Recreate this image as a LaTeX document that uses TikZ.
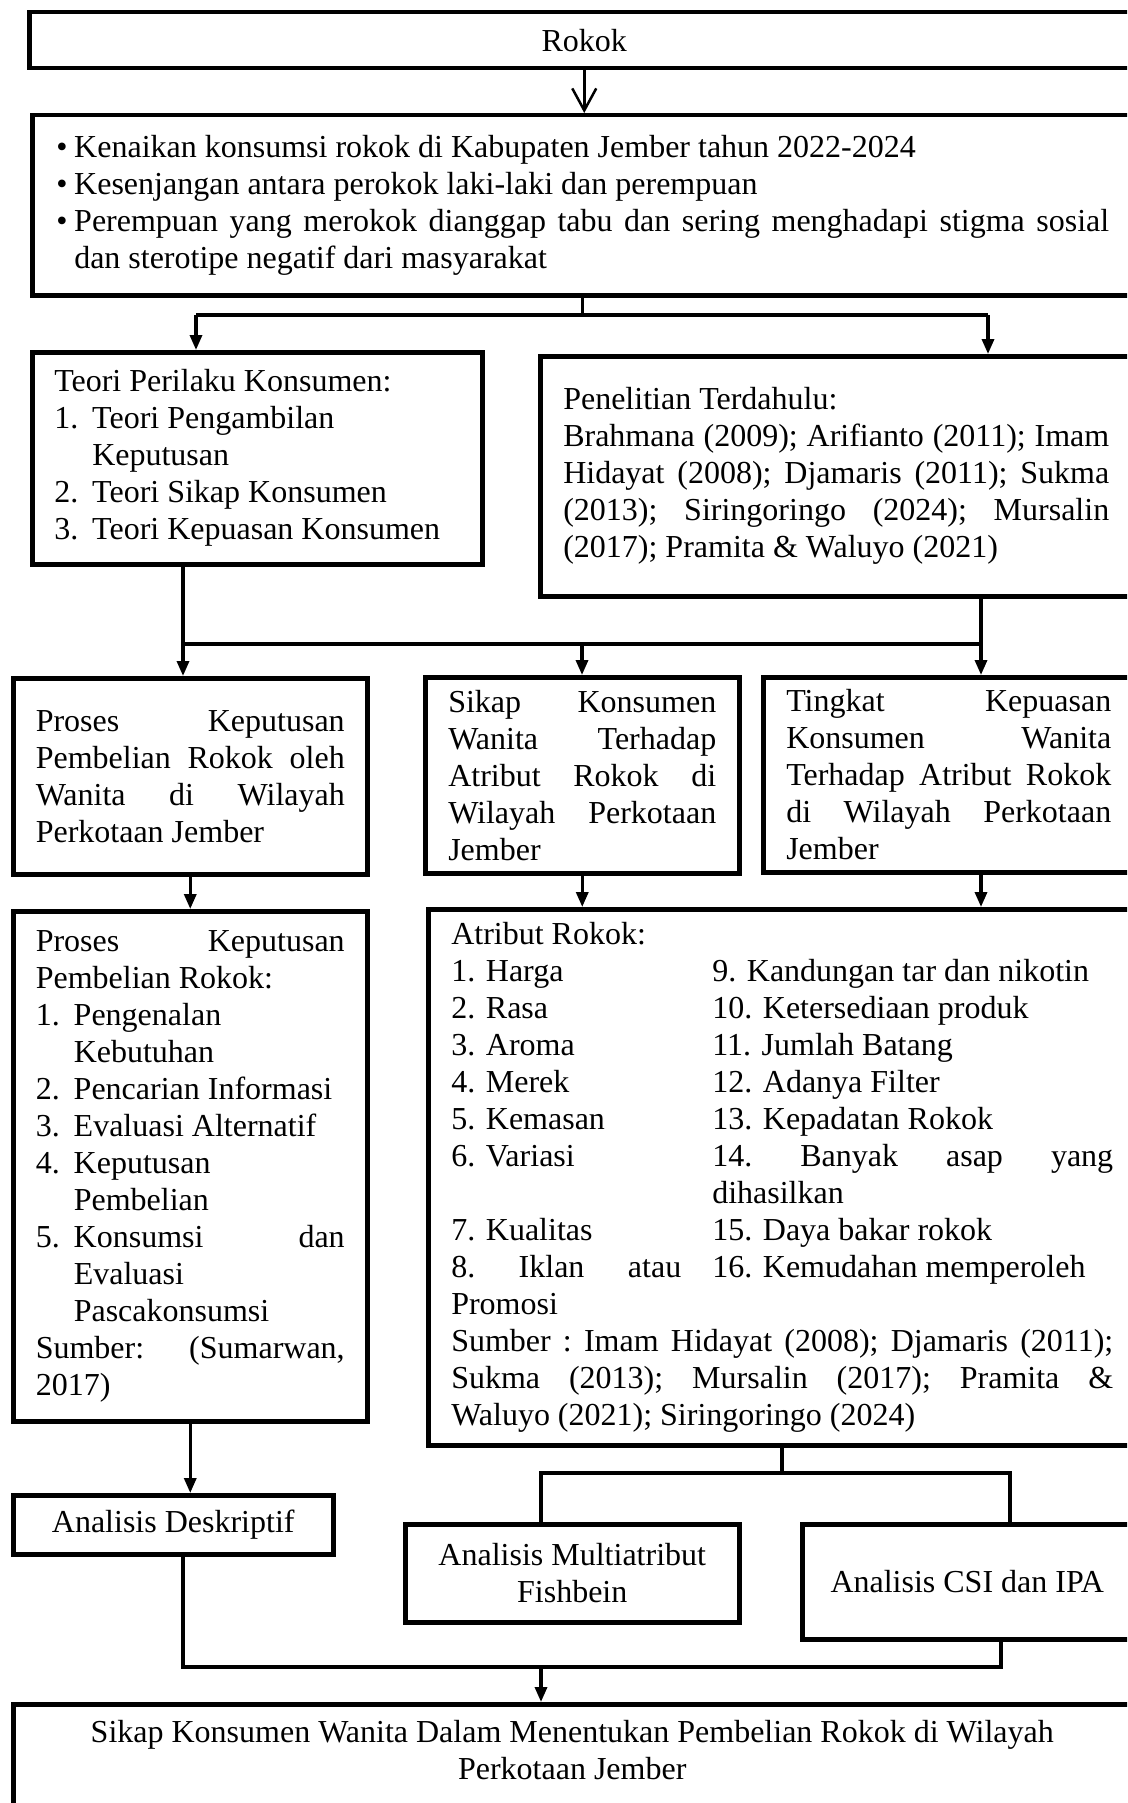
\documentclass[tikz,border=0pt]{standalone}
\usepackage{fontspec}
\setmainfont{Liberation Serif}
\usetikzlibrary{arrows.meta}

\newcommand{\rata}[2][\linewidth]{{\frenchspacing\makebox[#1][s]{#2}}}
\newcommand{\nomor}[1]{\makebox[38pt][l]{#1}}
\newcommand{\butir}{\makebox[18pt][l]{\textbullet}}
\newcommand{\kol}[1]{\makebox[261pt][l]{#1}}

\begin{document}
\begin{tikzpicture}[x=1pt, y=-1pt,
    box/.style={draw, line width=4.5pt, inner sep=0pt, anchor=north west, align=flush left,
        font=\fontsize{32}{37}\selectfont},
    conn/.style={line width=3.3pt},
    arr/.style={conn, -{Triangle[length=15pt,width=12pt]}}]
        \useasboundingbox (0,0) rectangle (1127,1803);
        \clip (0,0) rectangle (1127,1803);

        \node[box, align=flush center, minimum width=1110pt, minimum height=56pt] (rokok) at (27,10) {Rokok};
        \node[box, minimum width=1101pt, minimum height=180pt, text width=1053pt] (isu) at (30,113) {%
            \butir Kenaikan konsumsi rokok di Kabupaten Jember tahun 2022-2024\\
            \butir Kesenjangan antara perokok laki-laki dan perempuan\\
            \butir\rata[1035pt]{Perempuan yang merokok dianggap tabu dan sering menghadapi stigma sosial}\\
            \hspace*{18pt}dan sterotipe negatif dari masyarakat};

        \node[box, minimum width=450pt, minimum height=212pt, text width=406pt] (teori) at (30,350) {%
            Teori Perilaku Konsumen:\\
            \nomor{1.}Teori Pengambilan\\
            \nomor{}Keputusan\\
            \nomor{2.}Teori Sikap Konsumen\\
            \nomor{3.}Teori Kepuasan Konsumen};
        \node[box, minimum width=592pt, minimum height=240pt, text width=546pt] (penelitian) at (538,354) {%
            Penelitian Terdahulu:\\
            \rata{Brahmana (2009); Arifianto (2011); Imam}\\
            \rata{Hidayat (2008); Djamaris (2011); Sukma}\\
            \rata{(2013); Siringoringo (2024); Mursalin}\\
            (2017); Pramita \& Waluyo (2021)};

        \node[box, minimum width=354pt, minimum height=196pt, text width=309pt] (proses) at (11,676) {%
            \rata{Proses Keputusan}\\
            \rata{Pembelian Rokok oleh}\\
            \rata{Wanita di Wilayah}\\
            Perkotaan Jember};
        \node[box, minimum width=314pt, minimum height=196pt, text width=268pt] (sikap) at (423,675) {%
            \rata{Sikap Konsumen}\\
            \rata{Wanita Terhadap}\\
            \rata{Atribut Rokok di}\\
            \rata{Wilayah Perkotaan}\\
            Jember};
        \node[box, minimum width=371pt, minimum height=195pt, text width=325pt] (tingkat) at (761,675) {%
            \rata{Tingkat Kepuasan}\\
            \rata{Konsumen Wanita}\\
            \rata{Terhadap Atribut Rokok}\\
            \rata{di Wilayah Perkotaan}\\
            Jember};

        \node[box, minimum width=354pt, minimum height=510pt, text width=309pt] (tahap) at (11,909) {%
            \rata{Proses Keputusan}\\
            Pembelian Rokok:\\
            \nomor{1.}Pengenalan\\
            \nomor{}Kebutuhan\\
            \nomor{2.}Pencarian Informasi\\
            \nomor{3.}Evaluasi Alternatif\\
            \nomor{4.}Keputusan\\
            \nomor{}Pembelian\\
            \nomor{5.}\rata[271pt]{Konsumsi dan}\\
            \nomor{}Evaluasi\\
            \nomor{}Pascakonsumsi\\
            \rata{Sumber: (Sumarwan,}\\
            2017)};
        \node[box, minimum width=708pt, minimum height=536pt, text width=662pt] (atribut) at (426,907) {%
            Atribut Rokok:\\
            \kol{1. Harga}9. Kandungan tar dan nikotin\\
            \kol{2. Rasa}10. Ketersediaan produk\\
            \kol{3. Aroma}11. Jumlah Batang\\
            \kol{4. Merek}12. Adanya Filter\\
            \kol{5. Kemasan}13. Kepadatan Rokok\\
            \kol{6. Variasi}\rata[401pt]{14. Banyak asap yang}\\
            \kol{}dihasilkan\\
            \kol{7. Kualitas}15. Daya bakar rokok\\
            \kol{\rata[230pt]{8. Iklan atau}}16. Kemudahan memperoleh\\
            Promosi\\
            \rata{Sumber : Imam Hidayat (2008); Djamaris (2011);}\\
            \rata{Sukma (2013); Mursalin (2017); Pramita \&}\\
            Waluyo (2021); Siringoringo (2024)};

        \node[box, align=flush center, minimum width=320pt, minimum height=59pt] (deskriptif) at (11,1493) {Analisis Deskriptif};
        \node[box, align=flush center, minimum width=334pt, minimum height=98pt] (fishbein) at (403,1522) {Analisis Multiatribut\\Fishbein};
        \node[box, align=flush center, minimum width=330pt, minimum height=115pt] (csi) at (800,1522) {Analisis CSI dan IPA};
        \node[box, align=flush center, minimum width=1118pt, minimum height=112pt, text depth=20pt] (hasil) at (11,1702) {%
            Sikap Konsumen Wanita Dalam Menentukan Pembelian Rokok di Wilayah\\Perkotaan Jember};

        % titik cabang
        \coordinate (jL) at (196,315);
        \coordinate (jR) at (988,315);
        \coordinate (kL) at (183,644);
        \coordinate (kM) at (582,644);
        \coordinate (kR) at (981,644);
        \coordinate (mA) at (782,1473);
        \coordinate (mL) at (541,1473);
        \coordinate (mR) at (1010,1473);
        \coordinate (nL) at (183,1667);
        \coordinate (nM) at (541,1667);
        \coordinate (nR) at (1001,1667);

        \draw[line width=2.5pt, -{Straight Barb[length=22pt,width=24pt]}] (rokok.south) -- (rokok.south |- isu.north);
        \draw[conn] (isu.south) -- (isu.south |- jL);
        \draw[conn] (jL) -- (jR);
        \draw[arr] (jL) -- (jL |- teori.north);
        \draw[arr] (jR) -- (jR |- penelitian.north);

        \draw[conn] (teori.south -| kL) -- (kL);
        \draw[conn] (penelitian.south -| kR) -- (kR);
        \draw[conn] (kL) -- (kR);
        \draw[arr] (kL) -- (kL |- proses.north);
        \draw[arr] (kM) -- (kM |- sikap.north);
        \draw[arr] (kR) -- (kR |- tingkat.north);

        \draw[arr] (proses.south) -- (proses.south |- tahap.north);
        \draw[arr] (sikap.south) -- (sikap.south |- atribut.north);
        \draw[arr] (tingkat.south -| kR) -- (kR |- atribut.north);
        \draw[arr] (tahap.south) -- (tahap.south |- deskriptif.north);

        \draw[conn] (atribut.south -| mA) -- (mA);
        \draw[conn] (fishbein.north -| mL) -- (mL) -- (mR) -- (csi.north -| mR);
        \draw[conn] (deskriptif.south -| nL) -- (nL) -- (nR) -- (csi.south -| nR);
        \draw[arr] (nM) -- (nM |- hasil.north);
    \end{tikzpicture}
\end{document}
